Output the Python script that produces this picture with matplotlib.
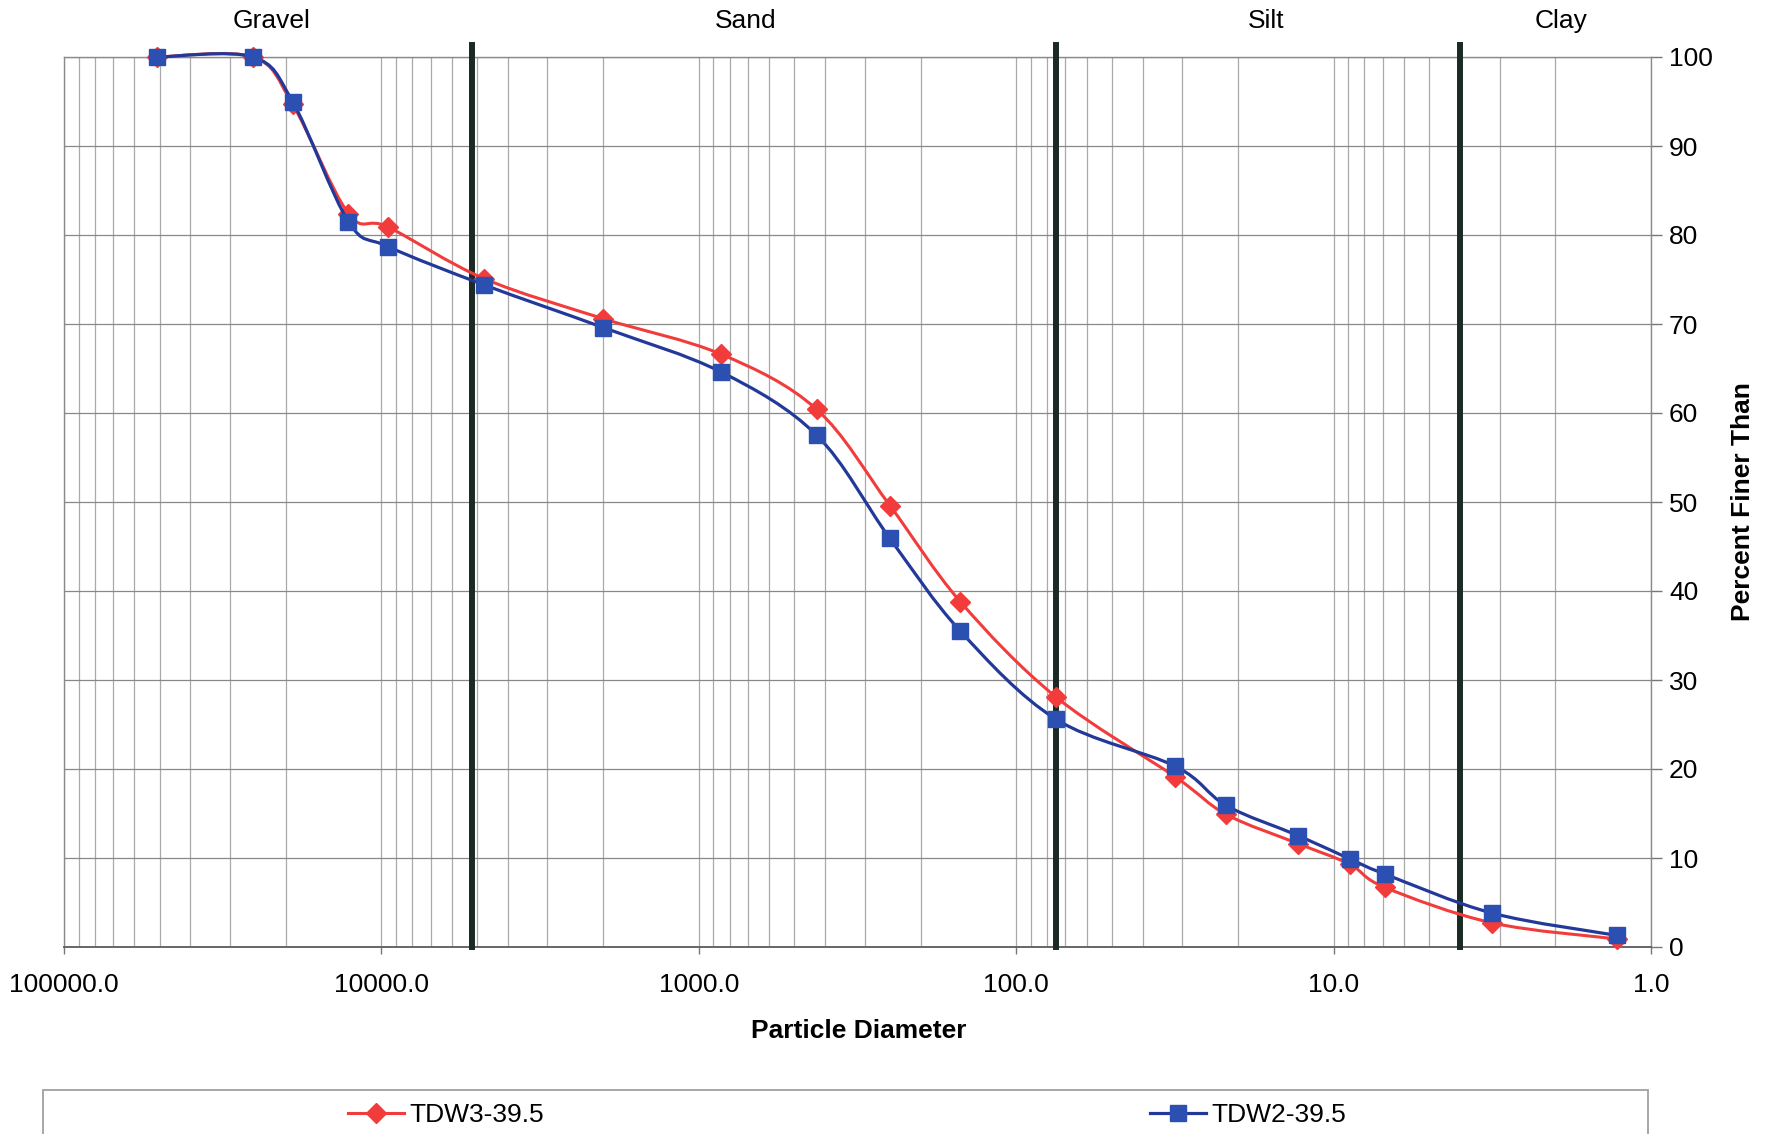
import numpy as np
import matplotlib
matplotlib.use('Agg')
import matplotlib.pyplot as plt
import matplotlib.ticker as mticker
from matplotlib.path import Path
from matplotlib.patches import PathPatch, Rectangle
from matplotlib.lines import Line2D
from matplotlib.transforms import blended_transform_factory

plt.rcParams['font.family'] = ['Liberation Sans', 'DejaVu Sans']

# sieve / hydrometer diameters (microns) and percent finer
diameter = [50800, 25400, 19050, 12700, 9525, 4750, 2000, 850, 425, 250, 150, 75,
            31.5, 21.8, 12.9, 8.9, 6.9, 3.16, 1.28]
tdw3 = [100, 100, 94.7, 82.4, 80.9, 75.1, 70.6, 66.6, 60.4, 49.6, 38.8, 28.1,
        19.1, 14.9, 11.6, 9.3, 6.7, 2.7, 0.9]
tdw2 = [100, 100, 95.0, 81.5, 78.7, 74.4, 69.6, 64.6, 57.5, 45.9, 35.5, 25.6,
        20.3, 15.9, 12.5, 9.9, 8.2, 3.8, 1.3]

boundaries = [5200, 75, 4]
zone_names = ['Gravel', 'Sand', 'Silt', 'Clay']
zone_label_x = [22200, 714, 16.3, 1.92]

RED = '#f23c3c'
BLUE_LINE = '#23399a'
BLUE_MK = '#2b50b2'


def smooth_path(x, y):
    # excel-like smoothed line: catmull-rom bezier in (log x, y) space
    pts = np.column_stack([np.log10(x), np.asarray(y, dtype=float)])
    n = len(pts)
    verts = [pts[0]]
    codes = [Path.MOVETO]
    for i in range(n - 1):
        p0 = pts[max(i - 1, 0)]
        p1 = pts[i]
        p2 = pts[i + 1]
        p3 = pts[min(i + 2, n - 1)]
        verts += [p1 + (p2 - p0) / 6, p2 - (p3 - p1) / 6, p2]
        codes += [Path.CURVE4] * 3
    verts = np.array(verts)
    verts[:, 0] = 10 ** verts[:, 0]
    return Path(verts, codes)


fig = plt.figure(figsize=(17.66, 11.34), dpi=100)
ax = fig.add_axes([64 / 1766, 1 - 947 / 1134, 1587 / 1766, 890 / 1134])

ax.set_xscale('log')
ax.set_xlim(100000, 1)
ax.set_ylim(0, 100)

ax.xaxis.set_major_locator(mticker.LogLocator(base=10, numticks=10))
ax.xaxis.set_major_formatter(mticker.FuncFormatter(lambda v, p: f'{v:.1f}'))
ax.xaxis.set_minor_locator(mticker.LogLocator(base=10, subs=range(2, 10), numticks=30))
ax.xaxis.set_minor_formatter(mticker.NullFormatter())
ax.set_yticks(range(0, 101, 10))
ax.yaxis.tick_right()

ax.grid(True, which='both', axis='x', color='#aaaaaa', lw=0.9)
ax.grid(True, which='major', axis='y', color='#888888', lw=0.9)
ax.set_axisbelow(True)

ax.tick_params(axis='x', which='major', direction='out', length=5, width=1,
               color='#777777', labelsize=19, pad=14)
ax.tick_params(axis='x', which='minor', length=0)
ax.tick_params(axis='y', which='major', direction='out', length=8, width=1,
               color='#777777', labelsize=19, pad=5, left=False, right=True)

for side in ['left', 'top', 'right']:
    ax.spines[side].set_color('#8a8a8a')
    ax.spines[side].set_linewidth(1.0)
ax.spines['bottom'].set_color('#666666')
ax.spines['bottom'].set_linewidth(1.4)

for b in boundaries:
    ax.axvline(b, ymin=0, ymax=1.013, color='#1b2b24', lw=4.3, zorder=3, clip_on=False)

ax.add_patch(PathPatch(smooth_path(diameter, tdw3), fill=False, ec=RED, lw=2.2,
                       zorder=4, clip_on=False))
ax.plot(diameter, tdw3, linestyle='none', marker='D', ms=10, color=RED, zorder=5,
        clip_on=False)
ax.add_patch(PathPatch(smooth_path(diameter, tdw2), fill=False, ec=BLUE_LINE, lw=2.3,
                       zorder=6, clip_on=False))
ax.plot(diameter, tdw2, linestyle='none', marker='s', ms=12, color=BLUE_MK, zorder=7,
        clip_on=False)

trans = blended_transform_factory(ax.transData, fig.transFigure)
for name, xpos in zip(zone_names, zone_label_x):
    ax.text(xpos, 1 - 21 / 1134, name, transform=trans, ha='center', va='center', fontsize=19)

fig.text(859 / 1766, 1 - 1031 / 1134, 'Particle Diameter', ha='center', va='center',
         fontsize=19, fontweight='bold')
fig.text(1743 / 1766, 1 - 502 / 1134, 'Percent Finer Than', ha='center', va='center',
         rotation=90, fontsize=19, fontweight='bold')

# legend box runs off the bottom edge
fig.add_artist(Rectangle((43 / 1766, -0.02), 1605 / 1766, 44 / 1134 + 0.02,
                         transform=fig.transFigure, fill=False, ec='#a0a0a0', lw=1.3))
h_red = Line2D([], [], color=RED, lw=2.2, marker='D', ms=10)
h_blue = Line2D([], [], color=BLUE_LINE, lw=2.3, marker='s', ms=12,
                markerfacecolor=BLUE_MK, markeredgecolor=BLUE_MK)
fig.legend(handles=[h_red], labels=['TDW3-39.5'], loc='center',
           bbox_to_anchor=(446 / 1766, 1 - 1115 / 1134), frameon=False, fontsize=19,
           handlelength=2.1, handletextpad=0.2)
fig.legend(handles=[h_blue], labels=['TDW2-39.5'], loc='center',
           bbox_to_anchor=(1248 / 1766, 1 - 1115 / 1134), frameon=False, fontsize=19,
           handlelength=2.1, handletextpad=0.2)

fig.savefig('out.png', dpi=100)
